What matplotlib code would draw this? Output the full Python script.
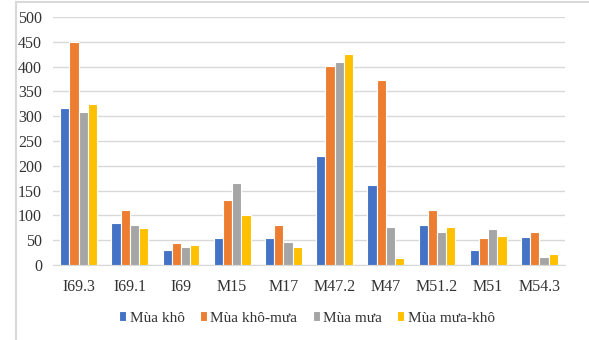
import matplotlib
matplotlib.use('Agg')
import matplotlib.pyplot as plt
from matplotlib.font_manager import FontProperties
import numpy as np

stations = ['I69.3', 'I69.1', 'I69', 'M15', 'M17', 'M47.2', 'M47', 'M51.2', 'M51', 'M54.3']
mua_kho = [317, 84, 30, 54, 54, 220, 161, 80, 30, 56]
mua_kho_mua = [449, 111, 44, 131, 80, 401, 372, 111, 54, 66]
mua_mua = [308, 81, 36, 166, 46, 409, 77, 66, 73, 16]
mua_mua_kho = [325, 75, 40, 100, 36, 425, 14, 77, 58, 22]

series = [
    ('Mùa khô', mua_kho, '#4472C4'),
    ('Mùa khô-mưa', mua_kho_mua, '#ED7D31'),
    ('Mùa mưa', mua_mua, '#A5A5A5'),
    ('Mùa mưa-khô', mua_mua_kho, '#FFC000'),
]

plt.rcParams['font.family'] = 'Liberation Serif'

fig = plt.figure(figsize=(5.89, 3.4), dpi=100)
ax = fig.add_axes([53 / 589, 1 - 265 / 340, 512 / 589, 248 / 340])

x = np.arange(len(stations))
w = 0.18
for i, (name, vals, color) in enumerate(series):
    ax.bar(x + (i - 1.5) * w, vals, w, color=color, edgecolor='white',
           linewidth=0.8, label=name, zorder=3)

ax.set_xlim(-0.5, len(stations) - 0.5)
ax.set_ylim(0, 500)
ax.set_yticks(range(0, 501, 50))
ax.set_xticks(x)
ax.set_xticklabels(stations)
ax.tick_params(axis='both', length=0, labelsize=11.5, colors='#333333')
ax.tick_params(axis='x', pad=10)
ax.tick_params(axis='y', pad=8)
ax.grid(axis='y', color='#d9d9d9', linewidth=1, zorder=0)
for s in ['top', 'right', 'left']:
    ax.spines[s].set_visible(False)
ax.spines['bottom'].set_color('#d9d9d9')

leg_font = FontProperties(family='Liberation Serif', size=11)
fig.legend(loc='center', bbox_to_anchor=(307 / 589, 1 - 318 / 340), ncol=4,
           frameon=False, prop=leg_font, handlelength=0.45, handleheight=0.6,
           handletextpad=0.25, columnspacing=1.0, labelcolor='#333333')

# outer chart frame
fig.add_artist(plt.Line2D([16 / 589, 1], [1 - 1.5 / 340] * 2, color='#d9d9d9', lw=1.5))
fig.add_artist(plt.Line2D([16 / 589] * 2, [0, 1 - 1.5 / 340], color='#d9d9d9', lw=1.5))

fig.savefig('out.png', dpi=100)
